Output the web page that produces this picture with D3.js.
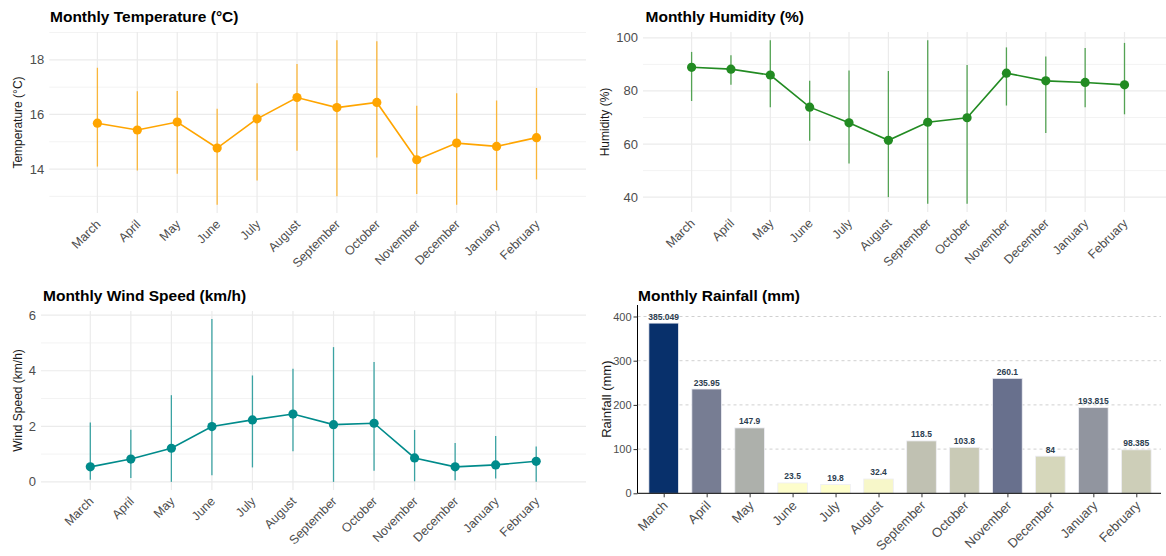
<!DOCTYPE html>
<html>
<head>
<meta charset="utf-8">
<script src="https://cdn.jsdelivr.net/npm/d3@7"></script>
<style>
  body { margin: 0; background: #fff; }
  svg { font-family: "Liberation Sans", Arial, sans-serif; }
</style>
</head>
<body>
<svg id="chart" width="1166" height="556"></svg>
<script>
const months = ["March", "April", "May", "June", "July", "August",
  "September", "October", "November", "December", "January", "February"];

// temperature (°C): mean with min/max range
const tempMean = [15.68, 15.43, 15.72, 14.77, 15.84, 16.62, 16.25, 16.44, 14.34, 14.95, 14.83, 15.15];
const tempLow = [14.09, 13.95, 13.83, 12.69, 13.58, 14.67, 13.0, 14.42, 13.09, 12.69, 13.22, 13.62];
const tempHigh = [17.71, 16.85, 16.86, 16.21, 17.14, 17.85, 18.72, 18.68, 16.32, 16.78, 16.51, 16.97];

// humidity (%)
const humMean = [88.9, 88.2, 86.0, 73.9, 68.0, 61.4, 68.2, 69.9, 86.7, 83.8, 83.2, 82.3];
const humLow = [76.2, 82.3, 73.9, 61.2, 52.7, 40.0, 37.5, 37.5, 74.5, 64.2, 73.9, 71.2];
const humHigh = [94.7, 93.4, 99.1, 83.8, 87.7, 87.5, 99.1, 89.8, 96.4, 93.0, 96.2, 98.1];

// wind speed (km/h)
const windMean = [0.54, 0.82, 1.21, 1.99, 2.23, 2.44, 2.06, 2.11, 0.86, 0.54, 0.61, 0.74];
const windLow = [0.08, 0.14, 0.0, 0.24, 0.52, 1.10, 0.0, 0.40, 0.02, 0.06, 0.12, 0.0];
const windHigh = [2.14, 1.88, 3.12, 5.86, 3.83, 4.07, 4.85, 4.31, 1.87, 1.40, 1.65, 1.27];

// rainfall (mm)
const rainfall = [385.049, 235.95, 147.9, 23.5, 19.8, 32.4, 118.5, 103.8, 260.1, 84, 193.815, 98.385];

const svg = d3.select("#chart");

function linePanel(cfg) {
  const g = svg.append("g");
  const x = d3.scalePoint().domain(months).range(cfg.xRange);
  const y = d3.scaleLinear().domain(cfg.yDomain).range([cfg.bottom, cfg.top]);

  // minor grid
  g.selectAll(".minor").data(cfg.minor).enter().append("line")
    .attr("x1", cfg.left).attr("x2", cfg.right)
    .attr("y1", d => y(d)).attr("y2", d => y(d))
    .attr("stroke", "#f3f3f3").attr("stroke-width", 1);
  // major grid
  g.selectAll(".major").data(cfg.major).enter().append("line")
    .attr("x1", cfg.left).attr("x2", cfg.right)
    .attr("y1", d => y(d)).attr("y2", d => y(d))
    .attr("stroke", "#ebebeb").attr("stroke-width", 1.2);
  g.selectAll(".vgrid").data(months).enter().append("line")
    .attr("x1", d => x(d)).attr("x2", d => x(d))
    .attr("y1", cfg.top).attr("y2", cfg.bottom)
    .attr("stroke", "#ebebeb").attr("stroke-width", 1.2);

  // y tick labels
  g.selectAll(".ylab").data(cfg.major).enter().append("text")
    .attr("x", cfg.left - 5).attr("y", d => y(d)).attr("dy", "0.35em")
    .attr("text-anchor", "end").attr("font-size", 13).attr("fill", "#4d4d4d")
    .text(d => d);

  // x tick labels
  g.selectAll(".xlab").data(months).enter().append("text")
    .attr("transform", d => `translate(${x(d) + 4},${cfg.bottom + 12}) rotate(-45)`)
    .attr("text-anchor", "end").attr("font-size", 12.5).attr("fill", "#4d4d4d")
    .text(d => d);

  // axis title
  g.append("text")
    .attr("transform", `translate(${cfg.titleX},${(cfg.top + cfg.bottom) / 2}) rotate(-90)`)
    .attr("text-anchor", "middle").attr("dy", "0.35em")
    .attr("font-size", 12).attr("fill", "#1a1a1a")
    .text(cfg.yTitle);

  // error bars
  g.selectAll(".err").data(months).enter().append("line")
    .attr("x1", d => x(d)).attr("x2", d => x(d))
    .attr("y1", (d, i) => y(cfg.low[i])).attr("y2", (d, i) => y(cfg.high[i]))
    .attr("stroke", cfg.color).attr("stroke-width", 1.3).attr("opacity", 0.75);

  const line = d3.line().x((d, i) => x(months[i])).y(d => y(d));
  g.append("path").datum(cfg.mean)
    .attr("d", line).attr("fill", "none")
    .attr("stroke", cfg.color).attr("stroke-width", 1.6);

  g.selectAll(".pt").data(cfg.mean).enter().append("circle")
    .attr("cx", (d, i) => x(months[i])).attr("cy", d => y(d))
    .attr("r", 4.6).attr("fill", cfg.color);

  svg.append("text")
    .attr("x", cfg.headX).attr("y", cfg.headY)
    .attr("font-size", 15.5).attr("font-weight", "bold").attr("fill", "#000")
    .text(cfg.title);
}

linePanel({
  title: "Monthly Temperature (°C)", headX: 50, headY: 22,
  yTitle: "Temperature (°C)", titleX: 18,
  left: 49.3, right: 586, top: 32, bottom: 213, xRange: [97.4, 536.5],
  yDomain: [12.39, 19.02], major: [14, 16, 18], minor: [13, 15, 17, 19],
  mean: tempMean, low: tempLow, high: tempHigh, color: "#FFA500"
});

linePanel({
  title: "Monthly Humidity (%)", headX: 645.5, headY: 22,
  yTitle: "Humidity (%)", titleX: 605,
  left: 643, right: 1166, top: 32, bottom: 212, xRange: [691.6, 1124.5],
  yDomain: [34.4, 102.2], major: [40, 60, 80, 100], minor: [50, 70, 90],
  mean: humMean, low: humLow, high: humHigh, color: "#228B22"
});

linePanel({
  title: "Monthly Wind Speed (km/h)", headX: 43, headY: 301,
  yTitle: "Wind Speed (km/h)", titleX: 18,
  left: 41, right: 586, top: 311, bottom: 490, xRange: [90.3, 536.2],
  yDomain: [-0.293, 6.15], major: [0, 2, 4, 6], minor: [1, 3, 5],
  mean: windMean, low: windLow, high: windHigh, color: "#008B8B"
});

// rainfall bars
(function () {
  const left = 637.5, right = 1161, top = 305, bottom = 493.3;
  const g = svg.append("g");
  const x = d3.scalePoint().domain(months).range([663.7, 1136.3]);
  const bw = x.step() * 0.69;
  const y = d3.scaleLinear().domain([0, 426]).range([bottom, top]);
  const color = d3.scaleLinear()
    .domain([d3.min(rainfall), d3.max(rainfall)])
    .range(["#ffffcc", "#08306b"])
    .interpolate(d3.interpolateLab);

  const ticks = [0, 100, 200, 300, 400];
  g.selectAll(".grid").data(ticks.slice(1)).enter().append("line")
    .attr("x1", left).attr("x2", right)
    .attr("y1", d => y(d)).attr("y2", d => y(d))
    .attr("stroke", "#d0d0d0").attr("stroke-dasharray", "3,3");

  g.selectAll(".bar").data(rainfall).enter().append("rect")
    .attr("x", (d, i) => x(months[i]) - bw / 2).attr("width", bw)
    .attr("y", d => y(d)).attr("height", d => bottom - y(d))
    .attr("fill", d => color(d))
    .attr("stroke", "#eeeef4").attr("stroke-width", 0.8);

  g.selectAll(".val").data(rainfall).enter().append("text")
    .attr("x", (d, i) => x(months[i])).attr("y", d => y(d) - 3.5)
    .attr("text-anchor", "middle").attr("font-size", 8.5).attr("font-weight", "bold")
    .attr("fill", "#2c3e50")
    .text(d => d);

  const yAxis = d3.axisLeft(y).tickValues(ticks).tickSize(4).tickPadding(2);
  const ya = g.append("g").attr("transform", `translate(${left},0)`).call(yAxis);
  ya.select(".domain").attr("d", `M0,${top}V${bottom}`).attr("stroke", "#000");
  ya.selectAll(".tick line").attr("stroke", "#333");
  ya.selectAll(".tick text").attr("font-size", 11).attr("fill", "#4d4d4d")
    .attr("font-family", "Liberation Sans, Arial, sans-serif");

  const xAxis = d3.axisBottom(x).tickSize(4).tickFormat("");
  const xa = g.append("g").attr("transform", `translate(0,${bottom})`).call(xAxis);
  xa.select(".domain").attr("d", `M${left},0H${right}`).attr("stroke", "#000");
  xa.selectAll(".tick line").attr("stroke", "#333");

  g.selectAll(".xlab").data(months).enter().append("text")
    .attr("transform", d => `translate(${x(d) + 5},${bottom + 13}) rotate(-45)`)
    .attr("text-anchor", "end").attr("font-size", 13).attr("fill", "#4d4d4d")
    .text(d => d);

  g.append("text")
    .attr("transform", `translate(606,${(top + bottom) / 2}) rotate(-90)`)
    .attr("text-anchor", "middle").attr("dy", "0.35em")
    .attr("font-size", 13).attr("fill", "#1a1a1a")
    .text("Rainfall (mm)");

  svg.append("text")
    .attr("x", 638).attr("y", 301)
    .attr("font-size", 15.5).attr("font-weight", "bold").attr("fill", "#000")
    .text("Monthly Rainfall (mm)");
})();
</script>
</body>
</html>
